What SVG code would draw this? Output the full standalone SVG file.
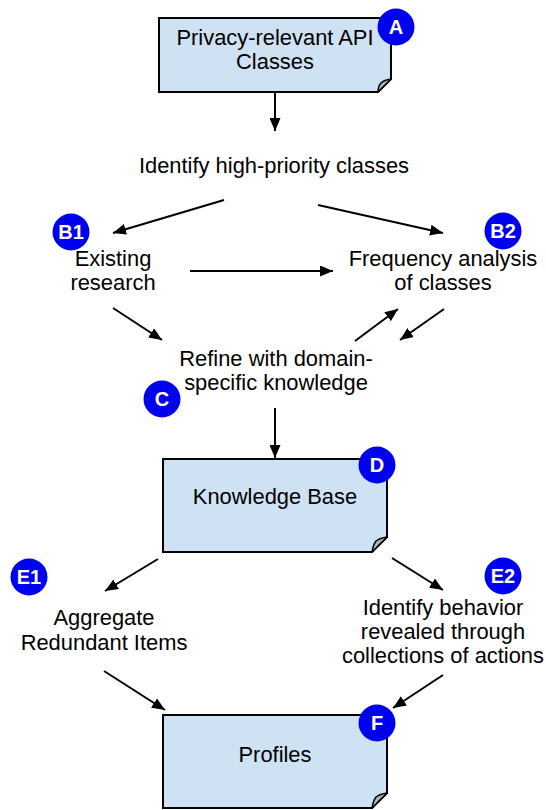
<svg xmlns="http://www.w3.org/2000/svg" width="546" height="810" viewBox="0 0 546 810">
  <style>
    .box { fill: #cfe2f3; stroke: #000; stroke-width: 2; stroke-linejoin: miter; }
    .fold { fill: #a7b3bf; stroke: #000; stroke-width: 1.5; stroke-linejoin: round; }
    .label { font-family: "Liberation Sans", Arial, sans-serif; font-size: 21.9px; fill: #000; text-anchor: middle; }
    .badge circle { fill: #0000f0; }
    .badge text { font-family: "Liberation Sans", Arial, sans-serif; font-size: 20px; font-weight: bold; fill: #fff; text-anchor: middle; }
    .edge { stroke: #000; stroke-width: 2; fill: none; marker-end: url(#arrow); }
  </style>
  <defs>
    <marker id="arrow" markerUnits="userSpaceOnUse" markerWidth="13" markerHeight="11" refX="13" refY="5.5" orient="auto">
      <path d="M0,0 L13,5.5 L0,11 Z" fill="#000"/>
    </marker>
  </defs>

  <rect width="546" height="810" fill="#fff"/>

  <!-- connectors -->
  <g id="connectors">
    <line class="edge" x1="275" y1="92" x2="275" y2="131"/>
    <line class="edge" x1="224" y1="200" x2="113" y2="233"/>
    <line class="edge" x1="318" y1="205" x2="443" y2="233"/>
    <line class="edge" x1="190" y1="271" x2="333" y2="271"/>
    <line class="edge" x1="113" y1="308" x2="162" y2="340"/>
    <line class="edge" x1="355" y1="341" x2="398" y2="309"/>
    <line class="edge" x1="444" y1="309" x2="400" y2="340"/>
    <line class="edge" x1="275" y1="408" x2="275" y2="458"/>
    <line class="edge" x1="158" y1="559" x2="105" y2="591"/>
    <line class="edge" x1="392" y1="558" x2="443" y2="590"/>
    <line class="edge" x1="104" y1="671" x2="165" y2="710"/>
    <line class="edge" x1="443" y1="675" x2="393" y2="708"/>
  </g>

  <!-- A: source classes -->
  <g id="node-api-classes">
    <path class="box" d="M159,18 H391 V79 L378,92 H159 Z"/>
    <path class="fold" d="M378,92 L391,79 Q384,80 381,83 Q378,86 378,92 Z"/>
    <text class="label" x="275" y="45">Privacy-relevant API</text>
    <text class="label" x="275" y="69">Classes</text>
    <g class="badge"><circle cx="396" cy="27" r="18.5"/><text x="396" y="34">A</text></g>
  </g>

  <g id="node-identify">
    <text class="label" x="274" y="173">Identify high-priority classes</text>
  </g>

  <g id="node-existing">
    <text class="label" x="113" y="266">Existing</text>
    <text class="label" x="113" y="290">research</text>
    <g class="badge"><circle cx="71" cy="232" r="18.5"/><text x="71" y="239">B1</text></g>
  </g>

  <g id="node-frequency">
    <text class="label" x="443" y="266">Frequency analysis</text>
    <text class="label" x="443" y="290">of classes</text>
    <g class="badge"><circle cx="503" cy="231" r="18.5"/><text x="503" y="238">B2</text></g>
  </g>

  <g id="node-refine">
    <text class="label" x="276" y="366">Refine with domain-</text>
    <text class="label" x="276" y="390">specific knowledge</text>
    <g class="badge"><circle cx="162" cy="399" r="18.5"/><text x="162" y="406">C</text></g>
  </g>

  <g id="node-knowledge-base">
    <path class="box" d="M163,459 H387 V537 L372,552 H163 Z"/>
    <path class="fold" d="M372,552 L387,537 Q380,538 376,541 Q373,545 372,552 Z"/>
    <text class="label" x="275" y="504">Knowledge Base</text>
    <g class="badge"><circle cx="377" cy="465" r="18.5"/><text x="377" y="472">D</text></g>
  </g>

  <g id="node-aggregate">
    <text class="label" x="104" y="625">Aggregate</text>
    <text class="label" x="104" y="650">Redundant Items</text>
    <g class="badge"><circle cx="29" cy="577" r="18.5"/><text x="29" y="584">E1</text></g>
  </g>

  <g id="node-behavior">
    <text class="label" x="443" y="615">Identify behavior</text>
    <text class="label" x="443" y="639">revealed through</text>
    <text class="label" x="443" y="663">collections of actions</text>
    <g class="badge"><circle cx="503" cy="576" r="18.5"/><text x="503" y="583">E2</text></g>
  </g>

  <g id="node-profiles">
    <path class="box" d="M163,715 H387 V793 L372,808 H163 Z"/>
    <path class="fold" d="M372,808 L387,793 Q380,794 376,797 Q373,801 372,808 Z"/>
    <text class="label" x="275" y="762">Profiles</text>
    <g class="badge"><circle cx="377" cy="723" r="18.5"/><text x="377" y="730">F</text></g>
  </g>
</svg>
